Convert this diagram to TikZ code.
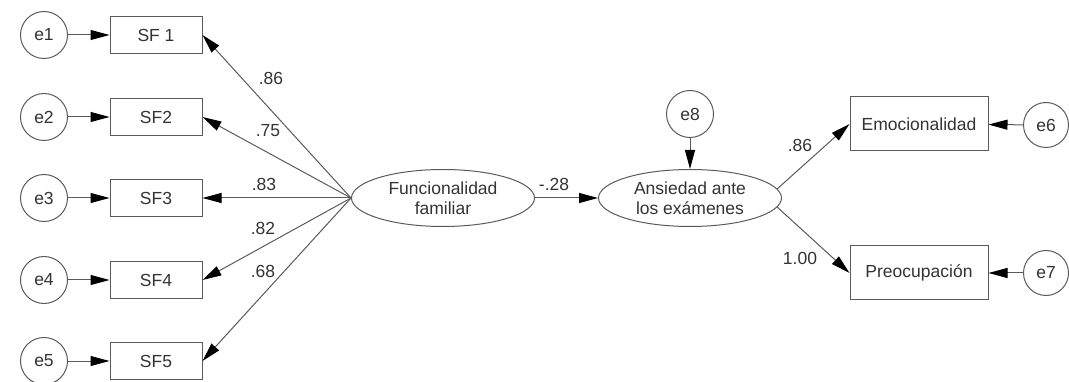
\documentclass[tikz,border=0pt]{standalone}
\usepackage{fontspec}
\setmainfont{Liberation Sans}
\usetikzlibrary{arrows.meta,shapes.geometric}
\definecolor{ln}{HTML}{5A5A5A}
\definecolor{tx}{HTML}{333333}
\begin{document}
\begin{tikzpicture}[x=1pt,y=-1pt,
  font=\fontsize{17.5}{20}\selectfont, text=tx,
  err/.style={circle,draw=ln,line width=1pt,minimum size=47pt,inner sep=0pt},
  obs/.style={rectangle,draw=ln,line width=1pt,minimum width=92pt,minimum height=37pt,inner sep=0pt},
  obsb/.style={rectangle,draw=ln,line width=1pt,minimum width=138pt,minimum height=54pt,inner sep=0pt},
  lat/.style={ellipse,draw=ln,line width=1pt,minimum width=183pt,minimum height=57pt,inner sep=0pt,align=center},
  arr/.style={draw=ln,line width=1pt,-{Triangle[length=19pt,width=10pt,color=black]}},
  lab/.style={inner sep=0pt}]
\useasboundingbox (0,0) rectangle (1069,382);
% error terms
\node[err] (e1) at (44,35) {e1};
\node[err] (e2) at (44,117) {e2};
\node[err] (e3) at (44,198) {e3};
\node[err] (e4) at (44,280) {e4};
\node[err] (e5) at (44,361) {e5};
% observed
\node[obs] (sf1) at (156,35) {SF 1};
\node[obs] (sf2) at (156,117) {SF2};
\node[obs] (sf3) at (156,198) {SF3};
\node[obs] (sf4) at (156,280) {SF4};
\node[obs] (sf5) at (156,361) {SF5};
% latents
\node[lat] (ff) at (443,198) {Funcionalidad\\familiar};
\node[lat] (ae) at (690,198) {Ansiedad ante\\los exámenes};
\node[err] (e8) at (690,114) {e8};
% right side
\node[obsb] (emo) at (919,124) {Emocionalidad};
\node[obsb] (pre) at (919,273) {Preocupación};
\node[err,minimum size=45pt] (e6) at (1046,125) {e6};
\node[err,minimum size=45pt] (e7) at (1046,273) {e7};
% arrows
\foreach \i in {1,...,5} {\draw[arr] (e\i) -- (sf\i.west);}
\foreach \i in {1,...,5} {\draw[arr] (ff.west) -- (sf\i.east);}
\draw[arr] (ff) -- (ae);
\draw[arr] (e8) -- (ae);
\draw[arr] (ae.6) -- (emo.west);
\draw[arr] (ae.-6) -- (pre.west);
\draw[arr] (e6) -- (emo);
\draw[arr] (e7) -- (pre);
% labels
\node[lab] (l1) at (271,78) {.86};
\node[lab] (l2) at (268,131) {.75};
\node[lab] (l3) at (264,184) {.83};
\node[lab] (l4) at (263,228) {.82};
\node[lab] (l5) at (263,271) {.68};
\node[lab] (l6) at (554,184) {-.28};
\node[lab] (l7) at (800,145) {.86};
\node[lab] (l8) at (800,258) {1.00};
\end{tikzpicture}
\end{document}
